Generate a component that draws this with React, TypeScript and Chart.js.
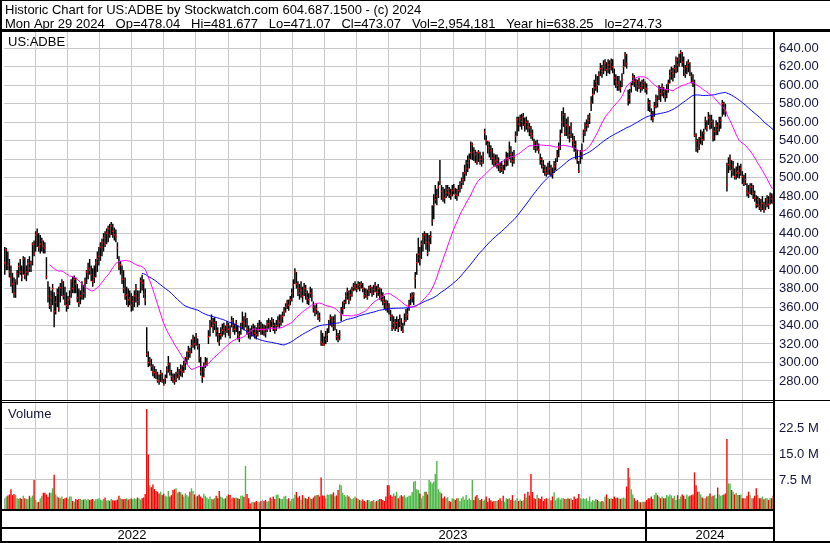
import React, { useEffect, useRef } from 'react';
import { Chart, registerables } from 'chart.js';

Chart.register(...registerables);

// ---------- text ----------
const HEADER_TITLE = 'Historic Chart for US:ADBE by Stockwatch.com 604.687.1500 - (c) 2024';
const HEADER_QUOTE = 'Mon Apr 29 2024   Op=478.04   Hi=481.677   Lo=471.07   Cl=473.07   Vol=2,954,181   Year hi=638.25   lo=274.73';
const SYMBOL = 'US:ADBE';
const VOLUME_TITLE = 'Volume';

// ---------- categories / ticks ----------
const YEARS = ['2022', '2023', '2024'];
const YEAR_START_BAR = [0, 167, 417];
const PRICE_TICKS = [280, 300, 320, 340, 360, 380, 400, 420, 440, 460, 480, 500, 520, 540, 560, 580, 600, 620, 640];
const VOLUME_TICKS = [7.5, 15, 22.5];
const MA_FAST = 30;
const MA_SLOW = 90;

// ---------- daily bars (May 2022 - Apr 29 2024) ----------
const HIGH = [
  // 2022
  425,424,420,412,405,397,392,390,400,408,
  412,405,415,414,405,412,415,410,430,432,
  442,445,440,438,435,432,430,414,388,382,
  378,385,376,372,380,382,386,390,388,382,
  376,372,378,390,393,394,392,385,380,378,
  388,384,392,400,408,412,405,402,405,412,
  420,425,430,434,440,442,445,448,450,452,
  450,446,444,430,415,410,405,400,392,382,
  380,378,375,372,378,385,378,378,392,395,
  390,380,338,312,306,304,298,296,293,290,
  287,292,289,282,287,296,307,300,292,288,
  288,290,295,293,298,297,302,306,312,318,
  316,325,330,328,332,326,320,306,295,300,
  306,305,335,346,352,348,349,345,338,332,
  338,342,343,340,345,343,340,350,348,342,
  346,340,334,343,355,350,354,348,340,337,
  340,342,340,338,343,346,344,
  // 2023
  342,341,340,346,348,346,349,347,343,
  346,350,352,352,355,
  360,364,368,368,372,380,
  390,402,398,388,
  385,388,382,386,384,378,375,
  382,380,
  366,362,364,
  356,354,335,332,328,
  334,337,
  346,352,350,
  350,352,
  336,332,335,
  360,366,368,
  376,381,378,379,382,
  386,388,385,388,387,388,386,
  381,380,379,
  383,384,382,384,387,383,385,381,
  380,376,372,368,367,364,
  357,352,350,347,
  350,347,352,348,343,
  353,358,359,
  368,375,376,376,
  398,418,
  435,425,432,
  440,442,440,
  440,438,442,
  470,482,
  492,488,496,
  519,
  492,490,488,492,
  492,490,488,492,493,489,
  488,492,496,500,
  506,514,519,
  524,526,
  539,538,
  533,530,528,
  530,528,524,528,
  553,546,
  540,539,535,
  532,526,525,
  525,522,516,518,514,520,
  528,527,539,534,528,530,
  550,566,566,
  568,569,570,565,566,562,
  559,556,552,
  542,540,541,537,
  526,522,519,514,512,516,
  518,514,511,518,521,
  530,538,552,
  572,576,570,
  564,566,556,560,
  548,545,540,530,
  518,
  530,537,
  552,560,563,568,570,
  588,597,
  606,612,610,615,
  624,622,627,628,625,628,
  627,629,628,
  618,612,610,
  610,605,613,
  628,636,634,
  595,596,
  603,613,611,
  607,606,608,604,606,607,604,602,
  // 2024
  586,584,
  575,572,
  582,590,589,
  600,598,602,598,
  596,601,606,
  617,620,619,622,
  631,630,
  634,638,636,
  631,622,626,
  628,625,
  614,612,
  606,
  548,542,544,
  552,550,553,
  566,562,571,568,
  568,563,555,562,
  560,566,566,
  584,582,
  580,
  516,
  522,525,
  519,518,510,512,
  516,513,515,
  507,503,505,
  494,492,494,
  494,492,486,
  481,480,478,
  477,480,474,
  478,481,480,
  484,483,481.677,
];

const LOW = [
  // 2022
  395,400,400,392,382,375,370,370,384,392,
  395,388,395,390,388,394,398,398,405,415,
  420,425,420,418,420,418,418,390,365,358,
  355,362,338,352,360,355,365,372,368,362,
  355,358,362,370,375,375,375,365,360,363,
  368,368,370,385,390,395,388,382,386,392,
  398,405,410,415,420,425,428,430,435,438,
  435,432,430,412,400,395,385,375,368,362,
  360,362,355,356,360,365,360,362,375,378,
  370,362,306,295,296,291,285,283,282,278,
  276,279,278,275,277,283,289,286,280,278,
  276,279,283,281,285,284,289,292,298,303,
  305,310,316,314,318,314,300,286,278,284,
  294,296,320,328,338,332,335,328,322,318,
  325,328,330,327,332,329,326,338,333,330,
  333,325,322,330,336,335,338,330,326,325,
  328,329,326,325,328,333,330,
  // 2023
  330,329,327,333,336,333,338,334,331,
  334,338,337,340,343,
  350,354,358,356,362,366,
  370,385,380,372,
  368,370,365,372,368,363,362,
  370,366,
  354,350,352,
  346,344,318,318,318,
  320,322,
  332,340,338,
  334,335,
  324,322,324,
  345,352,358,
  363,368,363,367,371,
  377,378,376,379,377,380,376,
  369,370,368,
  372,375,371,373,376,370,372,368,
  366,362,358,356,354,352,
  345,334,336,334,
  336,333,338,334,332,
  340,344,346,
  356,362,365,362,
  380,395,
  408,405,412,
  420,428,422,
  415,420,428,
  448,455,
  472,470,478,
  492,
  476,474,472,478,
  480,478,476,480,482,477,
  475,480,484,488,
  492,496,502,
  506,510,
  520,519,
  518,516,514,
  517,514,512,515,
  541,535,
  526,522,519,
  514,512,512,
  510,507,505,506,504,508,
  512,513,520,516,512,515,
  538,545,550,
  555,552,556,550,552,549,
  545,542,540,
  530,527,529,526,
  514,510,505,502,501,503,
  503,501,499,505,508,
  517,522,530,
  548,555,545,
  545,542,538,543,
  532,528,520,515,
  505,
  515,520,
  538,545,550,554,558,
  572,580,
  590,594,592,600,
  610,608,612,615,610,613,
  612,616,613,
  600,597,594,
  594,592,598,
  612,620,618,
  578,580,
  592,600,598,
  594,593,596,592,594,596,592,590,
  // 2024
  572,571,
  562,560,
  566,575,576,
  584,582,588,586,
  582,586,592,
  602,606,604,608,
  613,614,
  620,624,620,
  610,608,612,
  614,610,
  602,598,
  544,
  528,527,530,
  536,535,540,
  552,550,557,552,
  553,539,540,546,
  546,550,553,
  566,568,
  566,
  485,
  505,508,
  500,502,498,498,
  500,499,502,
  493,491,492,
  480,478,482,
  481,477,474,
  467,468,465,
  463,465,462,
  465,468,466,
  471,472,471.07,
];

const CLOSE = [
  // 2022
  408,422,405,398,392,385,375,388,396,404,
  398,392,412,395,398,407,402,408,428,418,
  438,440,425,428,432,426,424,393,372,362,
  370,380,355,365,375,358,381,387,372,366,
  362,368,370,388,380,390,385,370,365,372,
  385,375,388,398,402,400,395,388,392,408,
  412,415,425,430,435,428,440,445,438,448,
  442,438,436,424,404,406,390,380,372,373,
  368,370,362,366,372,380,366,370,388,386,
  374,368,309,300,303,296,290,289,287,281,
  280,288,280,276,283,292,298,290,285,282,
  280,284,289,286,292,290,296,300,305,312,
  310,318,325,320,328,318,305,290,284,292,
  298,300,328,338,345,340,343,334,330,322,
  330,335,337,333,340,336,332,345,340,336,
  342,330,328,338,344,342,348,336,332,330,
  334,336,332,330,335,339,336,
  // 2023
  336,335,332,340,342,338,345,340,336,
  340,345,343,348,350,
  355,360,365,362,368,375,
  384,398,385,380,
  375,378,372,380,376,370,368,
  375,372,
  360,355,358,
  350,347,322,320,319,
  325,330,
  341,348,345,
  339,342,
  328,325,330,
  352,358,365,
  372,377,368,373,378,
  381,383,380,384,382,385,380,
  372,375,371,
  378,381,375,379,383,376,380,373,
  372,368,365,361,360,358,
  350,337,343,340,
  343,337,345,340,334,
  345,350,352,
  362,370,372,374,
  391,408,
  417,412,428,
  435,438,430,
  418,428,436,
  453,470,
  476,480,490,
  495,
  485,480,478,484,
  487,483,481,486,488,482,
  481,486,490,495,
  498,505,510,
  516,520,
  527,536,
  528,525,517,
  527,520,516,522,
  549,540,
  536,532,529,
  521,516,518,
  519,514,509,512,508,515,
  521,519,530,525,518,522,
  545,563,558,
  564,561,566,557,560,555,
  554,548,545,
  538,532,535,530,
  520,516,512,508,505,510,
  510,507,504,512,515,
  524,532,545,
  560,568,548,
  557,555,546,552,
  540,536,528,519,
  507,
  524,529,
  548,552,557,562,566,
  581,590,
  597,604,600,611,
  618,615,620,624,617,622,
  618,625,620,
  608,604,600,
  602,597,606,
  620,633,623,
  584,590,
  599,609,604,
  602,599,605,597,600,603,597,596,
  // 2024
  581,578,
  568,564,
  577,586,582,
  595,591,598,593,
  588,595,602,
  610,615,613,618,
  627,622,
  629,635,625,
  618,612,620,
  624,615,
  610,604,
  546,
  540,532,537,
  544,541,548,
  561,554,565,558,
  561,544,550,556,
  552,558,562,
  580,575,
  572,
  492,
  514,519,
  508,512,501,505,
  507,505,510,
  501,494,498,
  485,483,490,
  490,483,478,
  471,476,469,
  467,472,465,
  470,476,471,
  480,477,473.07,
];

// volume in millions of shares
const VOLUME = [
  2.2,2.7,3.0,3.3,4.8,3.1,3.4,3.1,2.2,2.0,
  2.2,2.0,2.9,2.2,2.0,2.0,2.9,2.4,3.0,7.5,
  1.7,1.0,1.2,2.2,2.9,3.8,3.8,3.3,2.6,3.8,
  3.8,5.1,9.0,3.3,2.7,2.4,2.2,2.7,2.0,2.2,
  2.4,2.0,2.7,2.7,1.4,1.2,2.0,1.7,2.0,2.0,
  1.7,1.8,2.0,1.6,2.0,1.7,1.8,2.0,1.5,1.9,
  2.0,2.2,1.8,1.6,2.0,2.4,1.5,1.7,1.5,2.0,
  1.6,1.5,1.6,1.8,2.9,2.2,2.0,1.9,2.0,2.2,
  1.8,2.0,2.1,1.9,2.2,2.0,2.4,2.2,1.8,2.2,
  2.4,3.4,28.1,14.8,6.0,5.4,6.2,4.9,4.3,4.1,
  3.6,4.1,3.1,3.5,2.9,2.7,4.3,2.7,3.1,4.6,
  4.8,5.1,3.8,4.1,3.9,3.3,2.7,3.6,3.1,2.7,
  4.1,5.1,4.3,3.3,2.7,2.9,3.3,2.7,2.2,3.5,
  2.9,2.4,2.0,2.7,2.0,1.9,2.2,2.9,2.2,4.3,
  2.7,2.4,2.0,2.2,2.9,3.3,3.1,2.2,2.4,2.2,
  2.4,2.2,2.0,2.9,3.0,2.6,11.6,3.4,2.2,0.7,
  1.0,1.2,1.0,1.4,1.2,1.0,1.4,1.8,1.4,1.7,
  1.2,1.4,2.4,2.0,2.7,2.0,3.1,3.3,2.2,2.0,
  2.0,2.7,2.9,2.0,2.2,1.4,2.0,2.2,3.2,4.0,
  2.4,2.9,1.7,3.1,2.4,2.2,2.0,2.6,2.2,2.0,
  2.4,2.9,3.1,3.1,2.7,8.2,3.0,2.9,2.2,3.3,
  3.1,3.4,3.3,3.9,2.8,3.0,4.6,6.2,6.0,3.8,
  3.1,2.7,3.1,2.7,2.2,2.0,2.2,2.7,2.2,2.0,
  1.7,1.4,1.8,1.4,1.2,1.7,1.7,1.2,1.4,1.7,
  1.2,1.4,1.7,2.0,2.0,1.7,1.4,2.7,6.0,6.0,
  3.1,2.7,3.6,2.9,4.1,2.2,2.7,3.1,2.7,3.1,
  2.4,2.6,2.9,3.0,4.0,7.0,7.2,4.8,4.6,3.6,
  2.2,2.9,4.1,4.1,3.3,7.5,7.0,6.5,7.0,9.2,
  13.0,4.8,4.1,3.6,2.2,2.7,2.2,2.5,1.4,1.2,
  2.2,2.0,1.7,2.2,2.2,1.4,2.2,2.7,1.8,3.1,
  1.7,2.2,1.7,7.5,1.7,2.7,3.1,2.2,1.7,2.0,
  1.4,1.8,2.7,1.2,2.2,1.6,1.2,1.4,1.4,1.4,
  1.7,2.2,1.4,2.9,1.2,2.2,2.0,2.2,1.7,3.1,
  1.4,1.6,2.2,1.4,1.8,1.4,1.6,3.5,2.4,4.1,
  3.0,9.2,4.0,2.2,2.0,3.1,2.2,2.0,2.7,1.4,
  2.0,2.2,2.0,2.4,1.6,2.7,3.9,1.6,2.2,2.4,
  1.8,2.2,2.2,2.0,2.0,2.2,2.0,2.2,1.7,2.7,
  2.0,2.2,3.4,2.2,2.0,2.2,2.0,2.2,1.4,2.7,
  1.2,1.7,1.4,2.0,1.7,1.4,1.2,1.4,1.2,2.7,
  3.3,2.2,2.0,2.2,2.0,2.7,2.2,2.4,2.2,2.0,
  2.2,2.4,2.2,5.6,11.0,8.2,4.8,3.3,2.2,1.4,
  1.7,1.2,1.0,1.2,1.2,1.2,1.7,
  // 2024
  2.2,2.2,2.7,2.0,3.1,3.8,3.1,2.7,2.2,2.7,2.2,2.2,3.1,
  2.7,3.3,3.0,2.2,2.9,1.7,3.1,2.0,2.7,3.3,2.9,2.0,3.3,2.7,
  2.9,3.1,3.3,9.7,6.0,4.1,4.1,3.3,
  2.4,2.2,2.2,2.7,2.9,3.6,2.7,2.9,3.1,2.2,5.3,3.3,
  2.9,3.1,3.3,3.6,19.4,6.5,6.5,4.6,4.1,
  3.3,3.8,3.1,3.1,3.3,2.2,2.2,2.2,2.9,4.1,3.1,2.2,
  2.2,2.9,5.1,3.1,2.2,2.2,2.7,1.9,2.2,2.2,1.7,2.2,2.2,2.95,
];

// ---------- styling constants ----------
const FONT = "'Liberation Sans', Arial, sans-serif";
const GRID = '#c8c8c8';
const LABEL = '#14143c';
const UP = '#4cb848';
const DOWN = '#ff0000';
const FLAT = '#a0a0a0';
const PRICE_MIN = 259.4;
const PRICE_MAX = 657.6;
const VOL_MIN = -0.93;
const VOL_MAX = 30.72;

function movingAverage(values: number[], period: number): (number | null)[] {
  const out: (number | null)[] = [];
  let sum = 0;
  for (let i = 0; i < values.length; i++) {
    sum += values[i];
    if (i >= period) sum -= values[i - period];
    out.push(i >= period - 1 ? sum / period : null);
  }
  return out;
}

const framePlugin = {
  id: 'stockFrame',
  beforeDraw(chart: any) {
    const ctx = chart.ctx;
    ctx.save();
    ctx.fillStyle = '#ffffff';
    ctx.fillRect(0, 0, chart.width, chart.height);
    ctx.restore();
  },
  afterDraw(chart: any) {
    const { ctx, chartArea: a, scales } = chart;
    const W = chart.width;
    const H = chart.height;
    const xs = scales.x;
    const yP = scales.yPrice;
    ctx.save();
    ctx.fillStyle = '#000';
    // outer frame
    ctx.fillRect(0, 0, W, 1);
    ctx.fillRect(0, 0, 2, H);
    ctx.fillRect(0, H - 2, W, 2);
    // header separator
    ctx.fillRect(0, 29, W, 3);
    // right axis column separator
    ctx.fillRect(Math.round(a.right) - 1, 29, 2, H - 29);
    // price / volume separator (double line)
    const sep = Math.round(yP.bottom);
    ctx.fillRect(0, sep, W, 1);
    ctx.fillRect(0, sep + 2, Math.round(a.right), 1);
    // date rows
    const b = Math.round(a.bottom);
    ctx.fillRect(0, b, Math.round(a.right), 2);
    ctx.fillRect(0, b + 18, Math.round(a.right), 2);
    // year separators + labels
    ctx.font = `13px ${FONT}`;
    ctx.textAlign = 'center';
    ctx.textBaseline = 'alphabetic';
    for (let k = 0; k < YEARS.length; k++) {
      const x0 = k === 0 ? a.left : xs.getPixelForValue(YEAR_START_BAR[k] - 1.5);
      const x1 = k === YEARS.length - 1 ? a.right : xs.getPixelForValue(YEAR_START_BAR[k + 1] - 1.5);
      if (k > 0) ctx.fillRect(Math.round(x0) - 1, b, 2, H - b);
      ctx.fillText(YEARS[k], (x0 + x1) / 2, H - 4);
    }
    // header texts
    ctx.textAlign = 'left';
    ctx.fillStyle = '#000';
    ctx.fillText(HEADER_TITLE, 5, 14);
    ctx.fillText(HEADER_QUOTE, 5, 28);
    ctx.fillText(SYMBOL, 8, 46);
    ctx.fillStyle = LABEL;
    ctx.fillText(VOLUME_TITLE, 8, sep + 18);
    ctx.restore();
  },
};

export default function App() {
  const ref = useRef<HTMLCanvasElement>(null);

  useEffect(() => {
    const canvas = ref.current;
    if (!canvas) return;

    const n = CLOSE.length;
    const idx = CLOSE.map((_, i) => i);
    const maFast = movingAverage(CLOSE, MA_FAST);
    const maSlow = movingAverage(CLOSE, MA_SLOW);
    const volColors = VOLUME.map((_, i) =>
      i === 0 ? FLAT : CLOSE[i] > CLOSE[i - 1] ? UP : CLOSE[i] < CLOSE[i - 1] ? DOWN : FLAT
    );

    // vertical grid: 12 equal divisions per year, anchored on the year boundaries
    const step = (YEAR_START_BAR[2] - YEAR_START_BAR[1]) / 12;
    const anchor = YEAR_START_BAR[1] - 1.5;
    const gridX: number[] = [];
    for (let k = -30; k <= 30; k++) {
      const v = anchor + k * step;
      if (v > 1 && v < n - 1.5) gridX.push(v);
    }

    const tickFont = { family: FONT, size: 13 };

    const chart = new Chart(canvas, {
      type: 'line',
      data: {
        datasets: [
          {
            type: 'line',
            label: 'MA fast',
            data: idx.map((i) => ({ x: i, y: maFast[i] })),
            xAxisID: 'x',
            yAxisID: 'yPrice',
            borderColor: '#ff00ff',
            borderWidth: 1,
            pointRadius: 0,
            tension: 0,
            spanGaps: false,
            order: 1,
          },
          {
            type: 'line',
            label: 'MA slow',
            data: idx.map((i) => ({ x: i, y: maSlow[i] })),
            xAxisID: 'x',
            yAxisID: 'yPrice',
            borderColor: '#0000ff',
            borderWidth: 1,
            pointRadius: 0,
            tension: 0,
            spanGaps: false,
            order: 2,
          },
          {
            type: 'line',
            label: 'Close',
            data: idx.map((i) => ({ x: i, y: CLOSE[i] })),
            xAxisID: 'x',
            yAxisID: 'yPrice',
            showLine: false,
            pointStyle: 'rect',
            pointRadius: 1.05,
            pointBorderWidth: 0,
            pointBackgroundColor: '#ff0000',
            order: 3,
          },
          {
            type: 'bar',
            label: 'High-Low',
            data: idx.map((i) => ({ x: i, y: [LOW[i], HIGH[i]] })),
            xAxisID: 'x',
            yAxisID: 'yPrice',
            backgroundColor: '#000000',
            borderWidth: 0,
            barThickness: 1.45,
            grouped: false,
            inflateAmount: 0,
            order: 4,
          } as any,
          {
            type: 'bar',
            label: 'Volume',
            data: idx.map((i) => ({ x: i, y: VOLUME[i] })),
            xAxisID: 'x',
            yAxisID: 'yVol',
            base: VOL_MIN,
            backgroundColor: volColors,
            borderWidth: 0,
            barPercentage: 0.9,
            categoryPercentage: 1,
            grouped: false,
            inflateAmount: 0,
            order: 5,
          } as any,
        ],
      },
      options: {
        animation: false,
        responsive: false,
        devicePixelRatio: 1,
        events: [],
        layout: { padding: { top: 32, left: 2, right: 0, bottom: 0 } },
        plugins: {
          legend: { display: false },
          tooltip: { enabled: false },
          title: { display: false },
        },
        scales: {
          x: {
            type: 'linear',
            position: 'bottom',
            min: -0.5,
            max: n - 0.5,
            offset: false,
            afterBuildTicks: (s: any) => {
              s.ticks = gridX.map((v) => ({ value: v }));
            },
            afterFit: (s: any) => {
              s.height = 34;
            },
            ticks: { display: false },
            grid: { color: GRID, drawTicks: false, offset: false, lineWidth: 1 },
            border: { display: false },
          },
          yPrice: {
            type: 'linear',
            position: 'right',
            stack: 'panes',
            stackWeight: 368,
            weight: 1,
            min: PRICE_MIN,
            max: PRICE_MAX,
            beginAtZero: false,
            afterBuildTicks: (s: any) => {
              s.ticks = PRICE_TICKS.map((v) => ({ value: v }));
            },
            afterFit: (s: any) => {
              s.width = 56;
            },
            ticks: {
              autoSkip: false,
              padding: 5,
              color: LABEL,
              font: tickFont,
              callback: (v: any) => Number(v).toFixed(2),
            },
            grid: { color: GRID, drawTicks: false, lineWidth: 1 },
            border: { display: false },
          },
          yVol: {
            type: 'linear',
            position: 'right',
            stack: 'panes',
            stackWeight: 109,
            weight: 2,
            min: VOL_MIN,
            max: VOL_MAX,
            beginAtZero: false,
            afterBuildTicks: (s: any) => {
              s.ticks = VOLUME_TICKS.map((v) => ({ value: v }));
            },
            afterFit: (s: any) => {
              s.width = 56;
            },
            ticks: {
              autoSkip: false,
              padding: 5,
              color: LABEL,
              font: tickFont,
              callback: (v: any) => Number(v).toFixed(1) + ' M',
            },
            grid: { color: GRID, drawTicks: false, lineWidth: 1 },
            border: { display: false },
          },
        },
      } as any,
      plugins: [framePlugin],
    } as any);

    return () => chart.destroy();
  }, []);

  return (
    <div style={{ position: 'absolute', left: 0, top: 0, width: 830, height: 543, background: '#fff' }}>
      <canvas ref={ref} width={830} height={543} style={{ display: 'block', width: 830, height: 543 }} />
    </div>
  );
}
